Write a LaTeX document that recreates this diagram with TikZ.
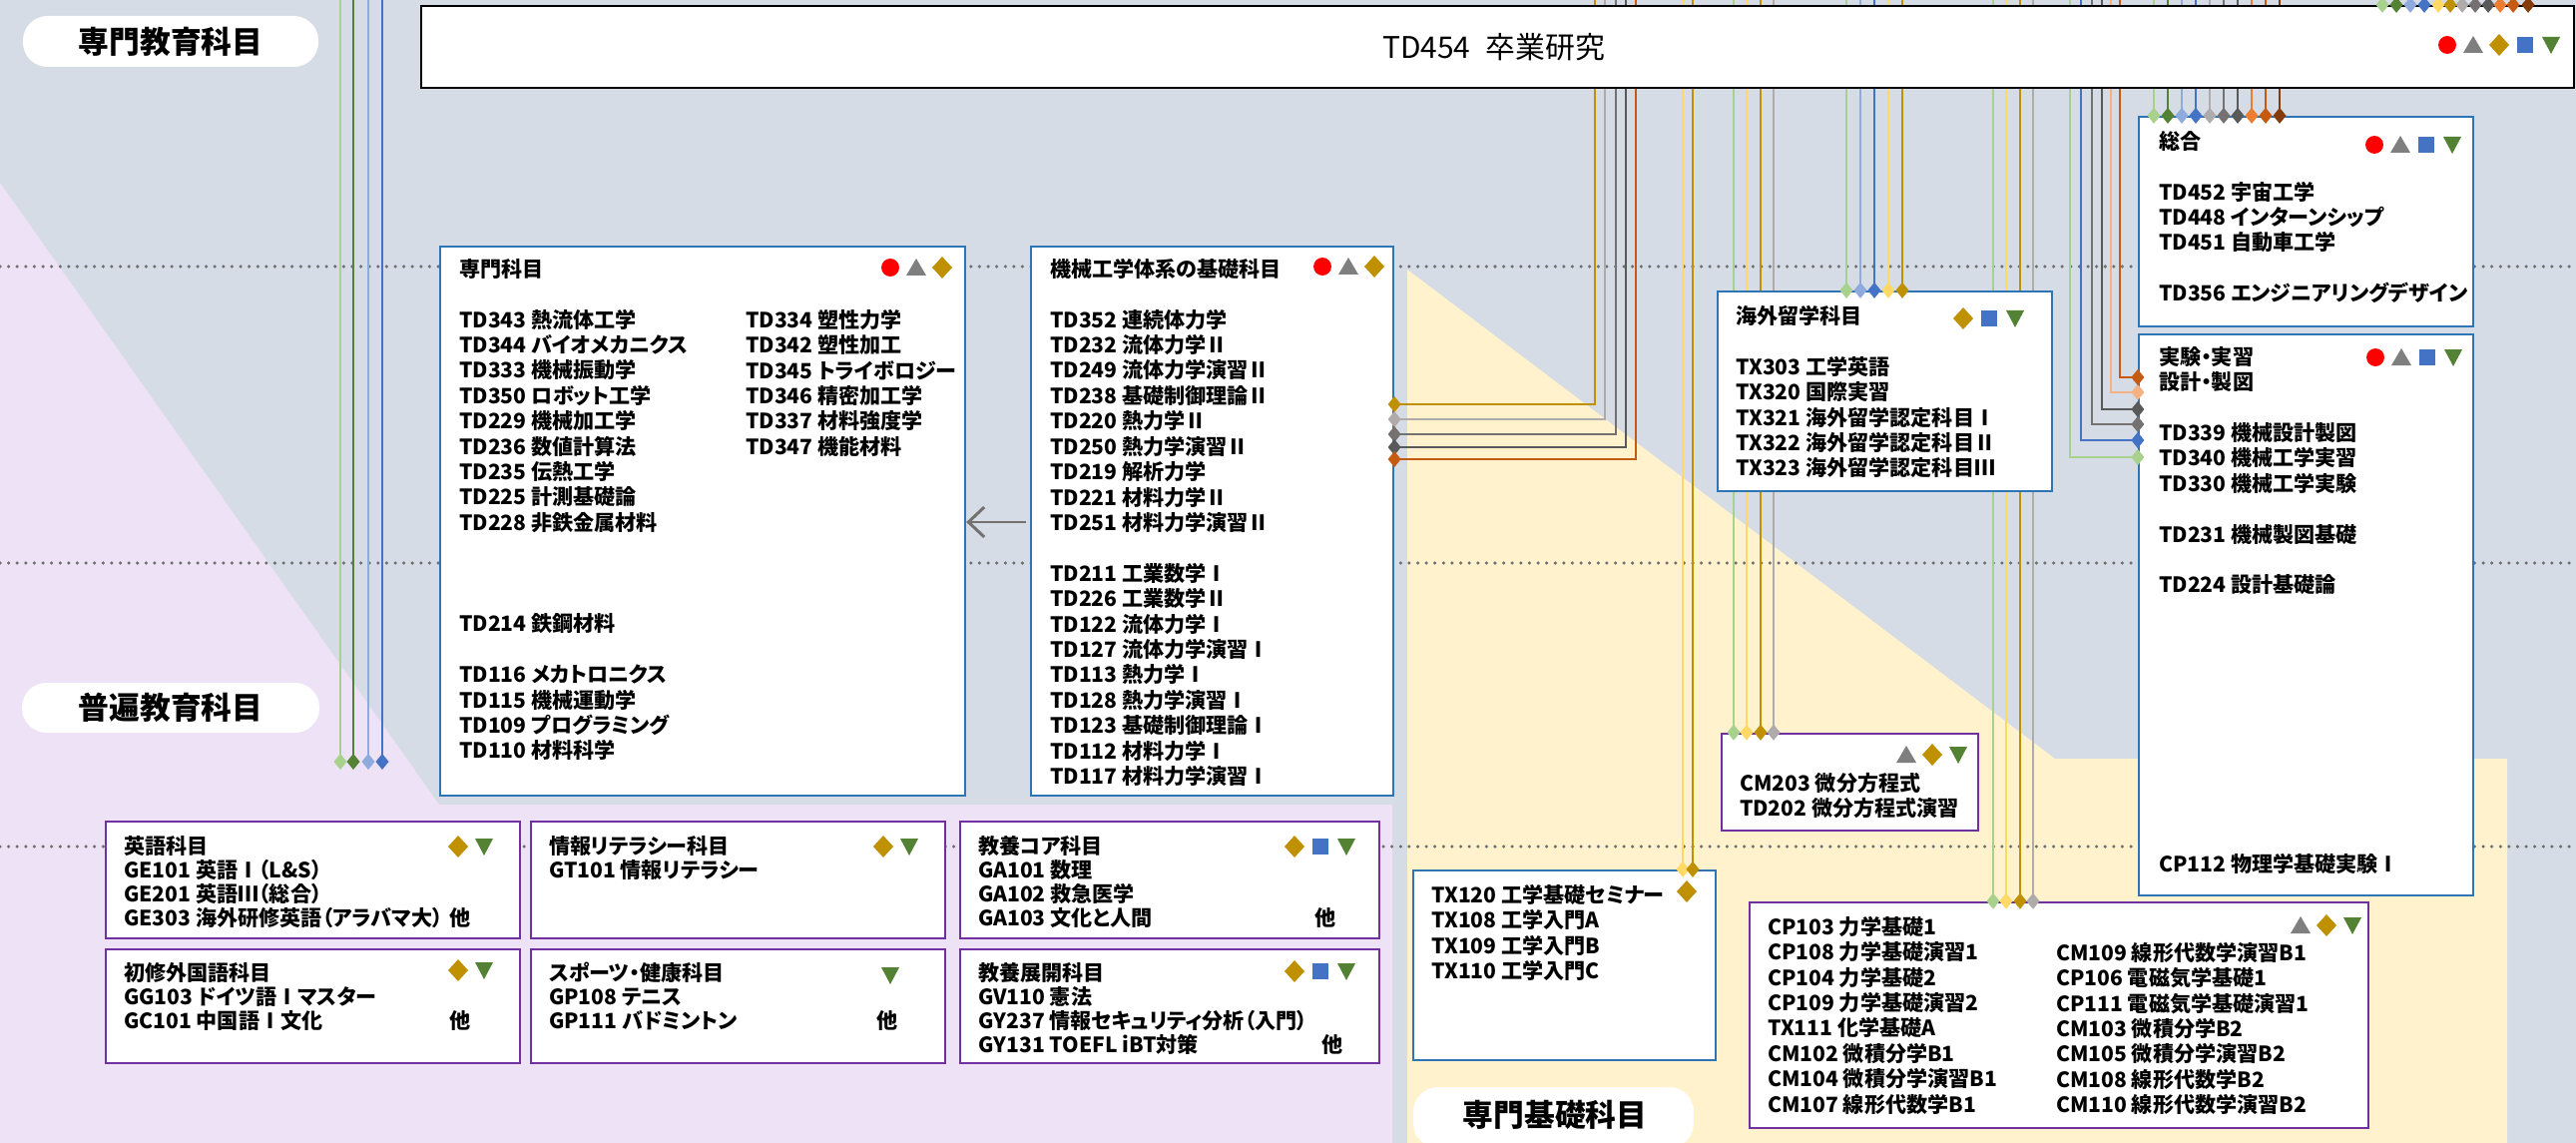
\documentclass[tikz,border=0pt]{standalone}
\usepackage{fontspec}
\setmainfont{Noto Sans CJK JP}[RawFeature=+palt]
\usetikzlibrary{fit,backgrounds,arrows.meta}

\definecolor{bgblue}{HTML}{D6DCE5}
\definecolor{bglav}{HTML}{EEE2F6}
\definecolor{bgcream}{HTML}{FFF2CC}
\definecolor{frblue}{HTML}{2E75B6}
\definecolor{frpurple}{HTML}{7030A0}
\definecolor{dotgray}{HTML}{707070}
\definecolor{lgreen}{HTML}{A9D18E}
\definecolor{dgreen}{HTML}{548235}
\definecolor{lblue}{HTML}{8FAADC}
\definecolor{mblue}{HTML}{4472C4}
\definecolor{lyellow}{HTML}{FFD966}
\definecolor{gold}{HTML}{BF9000}
\definecolor{lgray}{HTML}{AFABAB}
\definecolor{mgray}{HTML}{767171}
\definecolor{dgray}{HTML}{595959}
\definecolor{peach}{HTML}{F4B183}
\definecolor{lorange}{HTML}{ED7D31}
\definecolor{dorange}{HTML}{C55A11}
\definecolor{brownc}{HTML}{843C0C}
\definecolor{mkred}{HTML}{FF0000}
\definecolor{mkgray}{HTML}{7F7F7F}

\newcommand\itemfont{\bfseries\fontsize{12}{14.46}\selectfont}
\newcommand\lowfont{\bfseries\fontsize{12}{13.8}\selectfont}
\newcommand\pillfont{\bfseries\fontsize{17.5}{20}\selectfont}
\newcommand\oth[2][186pt]{\makebox[#1][l]{#2}他}
\newcommand\symrow[3]{\foreach \s [count=\i from 0] in {#3} {\pic at ({#1+26*\i},#2) {mark=\s};}}
\newcommand\conn[4][--]{%
  \begin{pgfonlayer}{background}\draw[ln,#2] (#3) #1 (#4);\end{pgfonlayer}%
  \fill[#2] (#4) +(0,-8) -- +(6.5,0) -- +(0,8) -- +(-6.5,0) -- cycle;}

\tikzset{pics/mark/.style={code={%
  \ifcase#1 \fill[mkred] (0,0) circle (5.1pt);%
  \or \fill[mkgray] (-10,8) -- (10,8) -- (0,-9) -- cycle;%
  \or \fill[gold] (0,-11) -- (10,0) -- (0,11) -- (-10,0) -- cycle;%
  \or \fill[mblue] (-8,-8) rectangle (8,8);%
  \or \fill[dgreen] (-9,-8) -- (9,-8) -- (0,9) -- cycle;%
  \fi}}}

\begin{document}
\begin{tikzpicture}[x=0.02cm,y=-0.02cm,
  bbox/.style={draw=frblue,line width=1.3pt,fill=white,inner sep=0},
  pbox/.style={draw=frpurple,line width=1.5pt,fill=white,inner sep=0},
  kbox/.style={draw=black,line width=1.3pt,fill=white,inner sep=0},
  pill/.style={fill=white,rounded corners=14pt,inner sep=0},
  pilltxt/.style={inner sep=0,font=\pillfont},
  txt/.style={anchor=north west,align=left,inner sep=0,font=\itemfont},
  lowtxt/.style={txt,font=\lowfont},
  ln/.style={line width=1.5pt},
  dotrule/.style={draw=dotgray,line width=2pt,line cap=round,dash pattern=on 0pt off 4.9pt},
  arr/.style={draw=mgray,line width=1.7pt,-{Straight Barb[length=9pt,width=17pt]},shorten <=2pt}]
\useasboundingbox (0,0) rectangle (2581,1145);
\begin{scope}[on background layer]
  \fill[bgblue] (0,0) rectangle (2581,1145);
  \fill[bglav] (0,183) -- (440,806) -- (1395,806) -- (1395,1145) -- (0,1145) -- cycle;
  \fill[bgcream] (1410,270) -- (2059,760) -- (2512,760) -- (2512,1145) -- (1410,1145) -- cycle;
  \foreach \yy in {267,564,848} \draw[dotrule] (0,\yy) -- (2581,\yy);
\end{scope}
\coordinate (top) at (0,0);
\coordinate (gen) at (0,763);

\node[kbox,fit={(422,6) (2579,88)}] (td454) {};
\node[anchor=west,inner sep=0,font=\fontsize{17}{20}\selectfont] (td454-t) at (1385,47) {TD454\enspace 卒業研究};

\node[pill,fit={(23,16) (319,67)}] (p-senmon) {};
\node[pilltxt] (p-senmon-t) at (p-senmon.center) {専門教育科目};
\node[pill,fit={(22,684) (320,734)}] (p-futsu) {};
\node[pilltxt] (p-futsu-t) at (p-futsu.center) {普遍教育科目};
\node[pill,fit={(1416,1089) (1697,1150)}] (p-kiso) {};
\node[pilltxt] (p-kiso-t) at (1558,1117) {専門基礎科目};

\node[bbox,fit={(441,247) (967,797)}] (senmon) {};
\node[txt] (senmon-l) at ([shift={(20,13)}]senmon.north west) {専門科目\\[\baselineskip]
  TD343 熱流体工学\\ TD344 バイオメカニクス\\ TD333 機械振動学\\ TD350 ロボット工学\\
  TD229 機械加工学\\ TD236 数値計算法\\ TD235 伝熱工学\\ TD225 計測基礎論\\
  TD228 非鉄金属材料\\[3\baselineskip]
  TD214 鉄鋼材料\\[\baselineskip]
  TD116 メカトロニクス\\ TD115 機械運動学\\ TD109 プログラミング\\ TD110 材料科学};
\node[txt] (senmon-r) at ([shift={(307,64)}]senmon.north west) {TD334 塑性力学\\ TD342 塑性加工\\
  TD345 トライボロジー\\ TD346 精密加工学\\ TD337 材料強度学\\ TD347 機能材料};

\node[bbox,fit={(1033,247) (1396,797)}] (kiso) {};
\node[txt] (kiso-t) at ([shift={(20,13)}]kiso.north west) {機械工学体系の基礎科目\\[\baselineskip]
  TD352 連続体力学\\ TD232 流体力学Ⅱ\\ TD249 流体力学演習Ⅱ\\ TD238 基礎制御理論Ⅱ\\
  TD220 熱力学Ⅱ\\ TD250 熱力学演習Ⅱ\\ TD219 解析力学\\ TD221 材料力学Ⅱ\\
  TD251 材料力学演習Ⅱ\\[\baselineskip]
  TD211 工業数学Ⅰ\\ TD226 工業数学Ⅱ\\ TD122 流体力学Ⅰ\\ TD127 流体力学演習Ⅰ\\
  TD113 熱力学Ⅰ\\ TD128 熱力学演習Ⅰ\\ TD123 基礎制御理論Ⅰ\\ TD112 材料力学Ⅰ\\
  TD117 材料力学演習Ⅰ};
\draw[arr] (kiso.west |- 0,523) -- (senmon.east |- 0,523);

\node[bbox,fit={(1721,292) (2056,492)}] (kaigai) {};
\node[txt] (kaigai-t) at ([shift={(19,15)}]kaigai.north west) {海外留学科目\\[\baselineskip]
  TX303 工学英語\\ TX320 国際実習\\ TX321 海外留学認定科目Ⅰ\\ TX322 海外留学認定科目Ⅱ\\
  TX323 海外留学認定科目Ⅲ};

\node[bbox,fit={(2143,117) (2478,327)}] (sogo) {};
\node[txt] (sogo-t) at ([shift={(21,15)}]sogo.north west) {総合\\[\baselineskip]
  TD452 宇宙工学\\ TD448 インターンシップ\\ TD451 自動車工学\\[\baselineskip]
  TD356 エンジニアリングデザイン};

\node[bbox,fit={(2143,335) (2478,897)}] (jikken) {};
\node[txt] (jikken-t) at ([shift={(21,13)}]jikken.north west) {実験・実習\\ 設計・製図\\[\baselineskip]
  TD339 機械設計製図\\ TD340 機械工学実習\\ TD330 機械工学実験\\[\baselineskip]
  TD231 機械製図基礎\\[\baselineskip]
  TD224 設計基礎論\\[10\baselineskip]
  CP112 物理学基礎実験Ⅰ};

\node[pbox,fit={(1725,735) (1982,832)}] (cm203) {};
\node[txt] (cm203-t) at ([shift={(19,40)}]cm203.north west) {CM203 微分方程式\\ TD202 微分方程式演習};

\node[bbox,fit={(1416,872) (1719,1062)}] (tx120) {};
\node[txt] (tx120-t) at ([shift={(19,15)}]tx120.north west) {TX120 工学基礎セミナー\\ TX108 工学入門A\\
  TX109 工学入門B\\ TX110 工学入門C};

\node[pbox,fit={(1753,904) (2373,1130)}] (cp103) {};
\node[txt] (cp103-l) at ([shift={(19,15)}]cp103.north west) {CP103 力学基礎1\\ CP108 力学基礎演習1\\
  CP104 力学基礎2\\ CP109 力学基礎演習2\\ TX111 化学基礎A\\ CM102 微積分学B1\\
  CM104 微積分学演習B1\\ CM107 線形代数学B1};
\node[txt] (cp103-r) at ([shift={(308,41)}]cp103.north west) {CM109 線形代数学演習B1\\ CP106 電磁気学基礎1\\
  CP111 電磁気学基礎演習1\\ CM103 微積分学B2\\ CM105 微積分学演習B2\\ CM108 線形代数学B2\\
  CM110 線形代数学演習B2};

\node[pbox,fit={(106,823) (521,940)}] (eigo) {};
\node[lowtxt] (eigo-t) at ([shift={(19,15)}]eigo.north west) {英語科目\\ GE101 英語Ⅰ（L\&S）\\
  GE201 英語Ⅲ（総合）\\ \oth{GE303 海外研修英語（アラバマ大）}};
\node[pbox,fit={(532,823) (947,940)}] (joho) {};
\node[lowtxt] (joho-t) at ([shift={(19,15)}]joho.north west) {情報リテラシー科目\\ GT101 情報リテラシー};
\node[pbox,fit={(962,823) (1382,940)}] (core) {};
\node[lowtxt] (core-t) at ([shift={(19,15)}]core.north west) {教養コア科目\\ GA101 数理\\ GA102 救急医学\\
  \oth[192pt]{GA103 文化と人間}};
\node[pbox,fit={(106,951) (521,1065)}] (shoshu) {};
\node[lowtxt] (shoshu-t) at ([shift={(19,14)}]shoshu.north west) {初修外国語科目\\ GG103 ドイツ語Ⅰマスター\\
  \oth{GC101 中国語Ⅰ文化}};
\node[pbox,fit={(532,951) (947,1065)}] (sports) {};
\node[lowtxt] (sports-t) at ([shift={(19,14)}]sports.north west) {スポーツ・健康科目\\ GP108 テニス\\
  \oth[187pt]{GP111 バドミントン}};
\node[pbox,fit={(962,951) (1382,1065)}] (tenkai) {};
\node[lowtxt] (tenkai-t) at ([shift={(19,14)}]tenkai.north west) {教養展開科目\\ GV110 憲法\\
  GY237 情報セキュリティ分析（入門）\\ \oth[196pt]{GY131 TOEFL iBT対策}};

\foreach \xx/\cc in {341/lgreen,354/dgreen,369/lblue,383/mblue}
  {\conn{\cc}{top -| \xx,0}{gen -| \xx,0}}
\foreach \xx/\yy/\cc in {1598/405/gold,1608/420/lgray,1619/435/mgray,1629/448/dgray,1639/460/dorange}
  {\conn[|-]{\cc}{top -| \xx,0}{kiso.east |- 0,\yy}}
\foreach \xx/\cc in {1686/lyellow,1696/gold}
  {\conn{\cc}{top -| \xx,0}{tx120.north -| \xx,0}}
\foreach \xx/\cc in {1737/lgreen,1750/lyellow,1764/gold,1777/lgray}
  {\conn{\cc}{top -| \xx,0}{cm203.north -| \xx,0}}
\foreach \xx/\cc in {1850/lgreen,1864/lblue,1878/mblue,1892/lyellow,1906/gold}
  {\conn{\cc}{top -| \xx,0}{kaigai.north -| \xx,0}}
\foreach \xx/\cc in {1997/lgreen,2010/lyellow,2024/gold,2037/lgray}
  {\conn{\cc}{top -| \xx,0}{cp103.north -| \xx,0}}
\foreach \xx/\yy/\cc in {2074/458/lgreen,2085/441/mblue,2096/425/mgray,2106/410/dgray,2115/393/peach,2124/378/dorange}
  {\conn[|-]{\cc}{top -| \xx,0}{jikken.west |- 0,\yy}}
\foreach \xx/\cc in {2158/lgreen,2172/dgreen,2186/lblue,2200/mblue,2214/lgray,2228/mgray,2242/dgray,2256/lorange,2270/dorange,2284/brownc}
  {\conn{\cc}{top -| \xx,0}{sogo.north -| \xx,0}}
\foreach \xx/\cc in {2387/lgreen,2401/dgreen,2415/lblue,2429/mblue,2443/lyellow,2455/gold,2467/lgray,2480/mgray,2493/dgray,2505/lorange,2518/dorange,2533/brownc}
  {\conn{\cc}{top -| \xx,0}{td454.north -| \xx,0}}

\symrow{2452}{45}{0,1,2,3,4}
\symrow{892}{268}{0,1,2}
\symrow{1325}{267}{0,1,2}
\symrow{1967}{319}{2,3,4}
\symrow{2379}{145}{0,1,3,4}
\symrow{2380}{358}{0,1,3,4}
\symrow{1910}{756}{1,2,4}
\symrow{1690}{893}{2}
\symrow{2305}{927}{1,2,4}
\symrow{459}{848}{2,4}
\symrow{885}{848}{2,4}
\symrow{1297}{848}{2,3,4}
\symrow{459}{972}{2,4}
\symrow{892}{977}{4}
\symrow{1297}{973}{2,3,4}
\end{tikzpicture}
\end{document}
